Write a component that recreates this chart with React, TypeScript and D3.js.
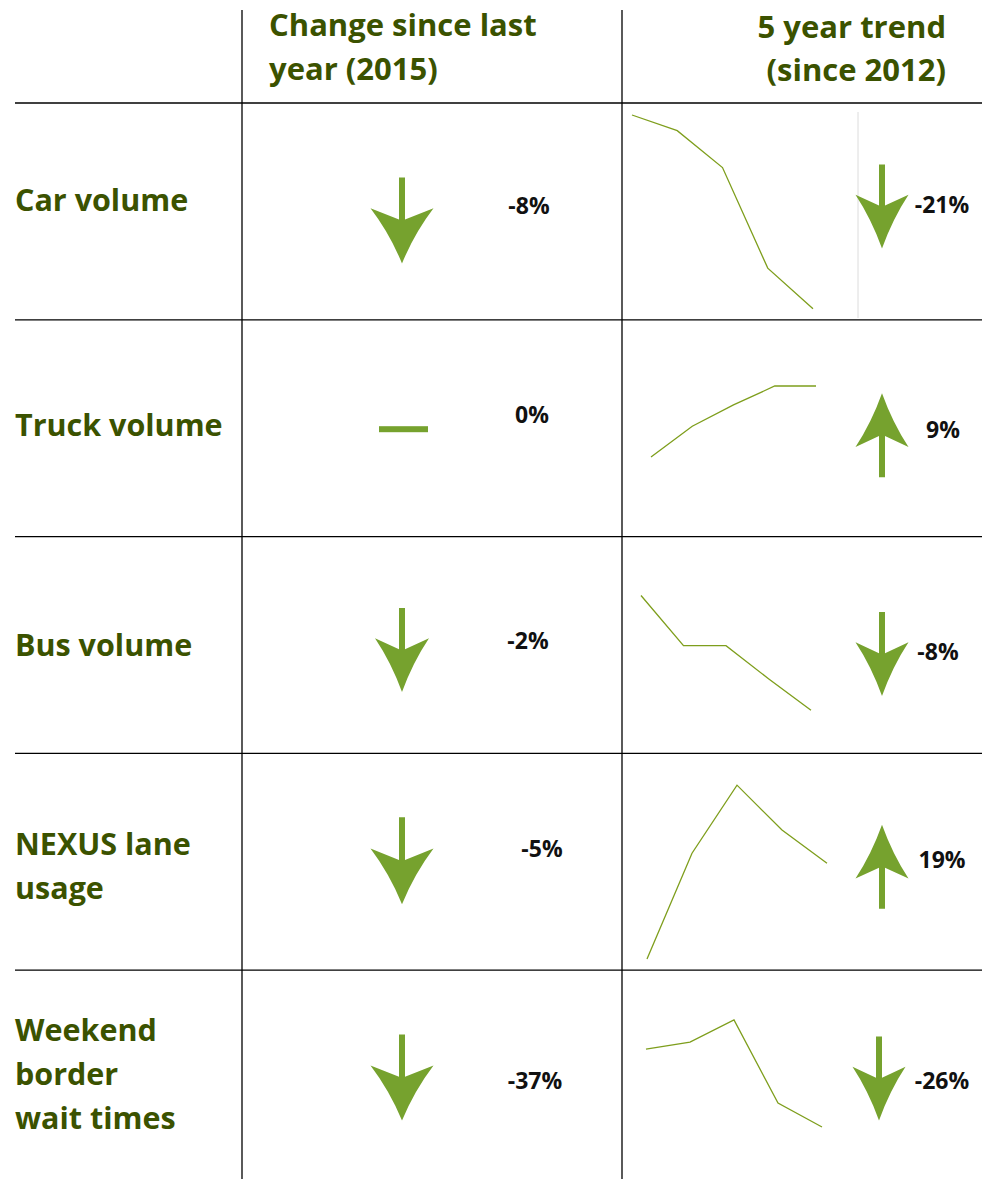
import * as d3 from 'd3';

// rows of the scorecard
const rowLabels: string[][] = [
  ['Car volume'],
  ['Truck volume'],
  ['Bus volume'],
  ['NEXUS lane', 'usage'],
  ['Weekend', 'border', 'wait times'],
];

// change since last year (2015), percent
const yearChange = [-8, 0, -2, -5, -37];
// 5 year trend since 2012, percent
const trendChange = [-21, 9, -8, 19, -26];

const years = [2012, 2013, 2014, 2015, 2016];
// index values (2012 = 100) for the sparklines
const carTrend = [100, 98.3, 94.3, 83.4, 79];
const truckTrend = [100, 103.9, 106.6, 109, 109];
const busTrend = [100, 96.5, 96.5, 94.2, 92];
const nexusTrend = [100, 121, 134.5, 125.6, 119];
const weekendTrend = [100, 102.3, 109.7, 82, 74];
const trendSeries = [carTrend, truckTrend, busTrend, nexusTrend, weekendTrend];
// vertical extent of each sparkline cell in index units
const trendDomains: [number, number][] = [
  [77.8, 101.3],
  [89.9, 117.4],
  [89, 104.1],
  [97.8, 140.8],
  [54, 126.3],
];

const W = 982;
const H = 1179;
const labelGreen = '#3b5200';
const arrowGreen = '#76a22e';
const lineGreen = '#7e9e1c';
const font = '"Open Sans", Lato, sans-serif';

// sparkline horizontal reach per row
const sparkX: [number, number][] = [
  [632, 813],
  [651, 816],
  [641, 811],
  [647, 827],
  [646, 822],
];
// small per-row nudges (px) seen in the original layout
const labelDy = [-10, -2, 1, 5, -4];
const changeArrowDy = [9, 1, 5, -1, -1];
const trendArrowDy = [-5, 7, 9, 5, 0];
const changeTextX = [529, 532, 528, 542, 535];
const changeTextDy = [-5, -13, -4, -13, 2];
const trendTextX = [942, 943, 938, 942, 942];
const trendTextDy = [-6, 2, 7, -2, 2];

function arrowPath(cx: number, cy: number, len: number, wid: number, dir: number) {
  // dir = 1 down, -1 up
  const top = cy - (dir * len) / 2;
  const tip = cy + (dir * len) / 2;
  const wingY = top + dir * len * 0.36;
  const notchY = top + dir * len * 0.49;
  const hw = wid / 2;
  const s = 3;
  const ctrlY = wingY + (tip - wingY) * 0.45;
  const p = d3.path();
  p.moveTo(cx - s, top);
  p.lineTo(cx + s, top);
  p.lineTo(cx + s, notchY);
  p.lineTo(cx + hw, wingY);
  p.quadraticCurveTo(cx + hw * 0.4, ctrlY, cx, tip);
  p.quadraticCurveTo(cx - hw * 0.4, ctrlY, cx - hw, wingY);
  p.lineTo(cx - s, notchY);
  p.closePath();
  return p.toString();
}

function Arrow({ cx, cy, value, len, wid }: { cx: number; cy: number; value: number; len: number; wid: number }) {
  if (value === 0) {
    return <rect x={cx - 23} y={cy - 3} width={49} height={6} fill={arrowGreen} />;
  }
  return <path d={arrowPath(cx, cy, len, wid, value < 0 ? 1 : -1)} fill={arrowGreen} />;
}

export default function App() {
  const rowScale = d3.scaleBand<number>().domain(d3.range(rowLabels.length)).range([103, 1187]);
  const colA = 242;
  const colB = 622;
  const changeLen = [86, 0, 84, 87, 86];
  const changeWid = [63, 0, 54, 63, 63];

  return (
    <svg width={W} height={H} style={{ display: 'block', position: 'absolute', left: 0, top: 0 }}>
      <rect width={W} height={H} fill="#fff" />
      {/* headers */}
      <g fontFamily={font} fontWeight={700} fontSize={31} fill={labelGreen}>
        <text x={269} y={36}>Change since last</text>
        <text x={269} y={80}>year (2015)</text>
        <text x={946} y={38} textAnchor="end">5 year trend</text>
        <text x={946} y={81} textAnchor="end">(since 2012)</text>
      </g>

      {/* grid */}
      <line x1={colA} x2={colA} y1={10} y2={1179} stroke="#000" strokeWidth={1.3} />
      <line x1={colB} x2={colB} y1={10} y2={1179} stroke="#000" strokeWidth={1.3} />
      {rowLabels.map((_, i) => (
        <line key={i} x1={15} x2={W} y1={rowScale(i)!} y2={rowScale(i)!} stroke="#000" strokeWidth={1.3} />
      ))}
      <line x1={858} x2={858} y1={112} y2={318} stroke="#dcdcdc" strokeWidth={1} />

      {rowLabels.map((lines, i) => {
        const y0 = rowScale(i)!;
        const bw = rowScale.bandwidth();
        const mid = y0 + bw / 2;
        const lh = 44;
        const firstBase = mid - ((lines.length - 1) * lh) / 2 + 10 + labelDy[i];
        const y = d3.scaleLinear().domain(trendDomains[i]).range([y0 + bw, y0]);
        const x = d3.scaleLinear().domain(d3.extent(years) as [number, number]).range(sparkX[i]);
        const line = d3
          .line<number>()
          .x((_, j) => x(years[j]))
          .y((d) => y(d));
        const tv = trendChange[i];
        return (
          <g key={i}>
            <text fontFamily={font} fontWeight={700} fontSize={30.5} fill={labelGreen}>
              {lines.map((t, k) => (
                <tspan key={k} x={15} y={firstBase + k * lh}>
                  {t}
                </tspan>
              ))}
            </text>
            <Arrow cx={402} cy={mid + changeArrowDy[i]} value={yearChange[i]} len={changeLen[i]} wid={changeWid[i]} />
            <text
              x={changeTextX[i]}
              y={mid + changeTextDy[i] + 8}
              textAnchor="middle"
              fontFamily={font}
              fontWeight={700}
              fontSize={23}
              fill="#111"
            >
              {`${yearChange[i]}%`}
            </text>
            <path d={line(trendSeries[i]) ?? ''} fill="none" stroke={lineGreen} strokeWidth={1.3} />
            <Arrow cx={i === 4 ? 879 : 882} cy={mid + trendArrowDy[i]} value={tv} len={84} wid={53} />
            <text
              x={trendTextX[i]}
              y={mid + trendTextDy[i] + 8}
              textAnchor="middle"
              fontFamily={font}
              fontWeight={700}
              fontSize={23}
              fill="#111"
            >
              {`${tv}%`}
            </text>
          </g>
        );
      })}
    </svg>
  );
}
